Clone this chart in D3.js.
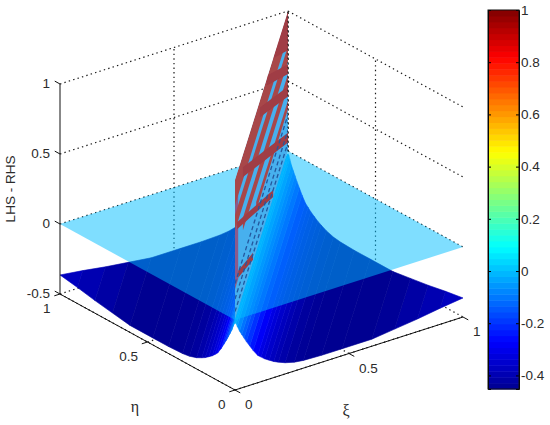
<!DOCTYPE html>
<html>
<head>
<meta charset="utf-8">
<script src="https://cdn.jsdelivr.net/npm/d3@7"></script>
<style>
body { margin: 0; background: #fff; }
text { font-family: "Liberation Sans", sans-serif; font-size: 13.5px; fill: #2b2b2b; }
.greek { font-family: "Liberation Serif", serif; font-size: 16px; }
</style>
</head>
<body>
<script>
//tick values and labels
var zTicks = [1, 0.5, 0, -0.5];
var zTickLabels = ["1", "0.5", "0", "-0.5"];
var xiTicks = [0, 0.5, 1];
var xiTickLabels = ["0", "0.5", "1"];
var etaTicks = [0, 0.5, 1];
var etaTickLabels = ["0", "0.5", "1"];
var colorbarTicks = [1, 0.8, 0.6, 0.4, 0.2, 0, -0.2, -0.4];
var colorbarLabels = ["1", "0.8", "0.6", "0.4", "0.2", "0", "-0.2", "-0.4"];

//colour range and the jet stops
var colorMin = -0.452, colorMax = 1, colorLevels = 64;
var jetStops = [0, 0.125, 0.375, 0.625, 0.875, 1];
var jetColors = ["#000090", "#0000ff", "#00ffff", "#ffff00", "#ff0000", "#800000"];

//surface height against distance from the diagonal
var ridgeOffset = [0, 0.005, 0.01, 0.02, 0.03, 0.04, 0.05, 0.065, 0.08, 0.1, 0.115, 0.13, 0.15, 0.17, 0.19, 0.22, 0.26, 0.3, 0.38, 0.47, 0.6, 0.7, 0.8, 0.9, 1];
var ridgeValue = [-0.02, -0.03, -0.05, -0.09, -0.12, -0.15, -0.18, -0.22, -0.26, -0.305, -0.325, -0.345, -0.365, -0.385, -0.4, -0.42, -0.437, -0.445, -0.45, -0.45, -0.45, -0.43, -0.41, -0.385, -0.364];

//flat plane at zero
var planeLevel = 0;

//red sheet on the diagonal: strips at a fixed drop below the top edge
var stripeTop = [0, 0.25, 0.45, 0.64];
var stripeBottom = [0.18, 0.36, 0.54, 0.7];
var stripeStart = [0, 0, 0.15, 0.4];
//crossing bands on the sheet
var bandStartU = [0.04, 0.06, 0.15, 0.47, 0.6, 0.8];
var bandStartZ = [0.6, 0.23, 0.84, 0.88, 0.95, 0.95];
var bandEndU = [0.72, 0.34, 1, 1, 1, 1];
var bandEndZ = [0.01, 0.02, 0.06, 0.39, 0.55, 0.72];
var bandThick = [0.05, 0.05, 0.07, 0.07, 0.07, 0.07];
//solid red tip of the sheet
var tipU = 0.72, tipZ = 0.72;
//reddish column down the near end of the sheet
var columnEndU = 0.06, columnBottomZ = 0.22;
//thin dark dashes low on the sheet
var dashTop = [0.74, 0.85, 0.94];

var width = 550, height = 425;

var svg = d3.select("body").append("svg")
    .attr("width", width)
    .attr("height", height);

var defs = svg.append("defs");
defs.append("filter")
    .attr("id", "soft")
    .append("feGaussianBlur")
    .attr("stdDeviation", 0.5);

//oblique view of the box, one scale per screen direction
var xiX = d3.scaleLinear().domain([0, 1]).range([0, 228]),
    etaX = d3.scaleLinear().domain([0, 1]).range([235, 60]),
    xiY = d3.scaleLinear().domain([0, 1]).range([0, -73]),
    etaY = d3.scaleLinear().domain([0, 1]).range([0, -96]),
    zY = d3.scaleLinear().domain([-0.5, 1]).range([390, 180]);

function project(xi, eta, z){
    return [xiX(xi) + etaX(eta), zY(z) + xiY(xi) + etaY(eta)];
};

var line = d3.line();

function polygon(points){
    return line(points.map(function(p){
        return project(p[0], p[1], p[2]);
    })) + "Z";
};

var toUnit = d3.scaleLinear().domain([colorMin, colorMax]).range([0, 1]).clamp(true);
var jet = d3.scaleLinear().domain(jetStops).range(jetColors);

//keep the sheet pieces inside the sheet outline
defs.append("clipPath")
    .attr("id", "sheetClip")
    .append("path")
    .attr("d", polygon([[0, 0, 0], [1, 1, 0], [1, 1, 1], [0, 0, 1]]));

//dotted lines on the back walls and the floor
var grid = svg.append("g").attr("class", "grid");

function dotted(target, a, b){
    var p = project(a[0], a[1], a[2]), q = project(b[0], b[1], b[2]);
    target.append("line")
        .attr("x1", p[0]).attr("y1", p[1])
        .attr("x2", q[0]).attr("y2", q[1])
        .attr("stroke", "#1a1a1a")
        .attr("stroke-width", 1.2)
        .attr("stroke-dasharray", "1.4,3.2");
};

zTicks.forEach(function(z){
    dotted(grid, [0, 1, z], [1, 1, z]);
    dotted(grid, [1, 1, z], [1, 0, z]);
});
xiTicks.forEach(function(v){
    if (v > 0){ dotted(grid, [v, 1, -0.5], [v, 1, 1]); }
    if (v < 1){ dotted(grid, [v, 0, -0.5], [v, 1, -0.5]); }
});
etaTicks.forEach(function(v){
    if (v > 0){ dotted(grid, [1, v, -0.5], [1, v, 1]); }
    if (v < 1){ dotted(grid, [0, v, -0.5], [1, v, -0.5]); }
});

//surface bands on each side of the diagonal, far ones first
var surface = svg.append("g").attr("class", "surface");

function addSide(side){
    for (var i = ridgeOffset.length - 2; i >= 0; i--){
        var d0 = ridgeOffset[i], d1 = ridgeOffset[i + 1],
            z0 = ridgeValue[i], z1 = ridgeValue[i + 1];
        var pts = side == "left" ?
            [[0, d0, z0], [1 - d0, 1, z0], [1 - d1, 1, z1], [0, d1, z1]] :
            [[d0, 0, z0], [1, 1 - d0, z0], [1, 1 - d1, z1], [d1, 0, z1]];
        var fill = jet(toUnit((z0 + z1) / 2));
        surface.append("path")
            .attr("d", polygon(pts))
            .attr("fill", fill)
            .attr("stroke", fill)
            .attr("stroke-width", 0.6);
    };
};
addSide("left");
addSide("right");

//translucent plane
svg.append("path")
    .attr("class", "plane")
    .attr("d", polygon([[0, 0, planeLevel], [1, 0, planeLevel], [1, 1, planeLevel], [0, 1, planeLevel]]))
    .attr("fill", jet(toUnit(planeLevel)))
    .attr("fill-opacity", 0.5);

//the sheet on the diagonal, from the plane up to one
var sheetClip = svg.append("g").attr("clip-path", "url(#sheetClip)");
var sheet = sheetClip.append("g").attr("class", "sheet").attr("filter", "url(#soft)");

sheet.append("path")
    .attr("d", polygon([[0, 0, 0], [1, 1, 0], [1, 1, 1], [0, 0, 1]]))
    .attr("fill", "#46b0ee");

sheet.append("path")
    .attr("d", polygon([[0, 0, columnBottomZ], [columnEndU, columnEndU, columnBottomZ], [columnEndU, columnEndU, 1], [0, 0, 1]]))
    .attr("fill", "#8a5a8c");

stripeTop.forEach(function(v, i){
    var u0 = stripeStart[i];
    sheet.append("path")
        .attr("d", polygon([[u0, u0, 1 - v], [1, 1, 1 - v], [1, 1, 1 - stripeBottom[i]], [u0, u0, 1 - stripeBottom[i]]]))
        .attr("fill", "#a8464a");
});

bandStartU.forEach(function(u0, i){
    var u1 = bandEndU[i], z0 = bandStartZ[i], z1 = bandEndZ[i];
    sheet.append("path")
        .attr("d", polygon([[u0, u0, z0], [u1, u1, z1], [u1, u1, z1 + bandThick[i]], [u0, u0, z0 + bandThick[i]]]))
        .attr("fill", "#a03c44");
});

sheet.append("path")
    .attr("d", polygon([[tipU, tipU, 1], [1, 1, 1], [1, 1, tipZ]]))
    .attr("fill", "#a03c44");

dashTop.forEach(function(v){
    sheet.append("path")
        .attr("d", polygon([[0, 0, 1 - v], [1, 1, 1 - v]]))
        .attr("fill", "none")
        .attr("stroke", "#24589f")
        .attr("stroke-width", 1.3)
        .attr("stroke-dasharray", "4,3");
});

//back corner shows through the sheet
dotted(svg, [1, 1, 0], [1, 1, 1]);

//solid axis lines
var axes = svg.append("g").attr("class", "axes");

function solid(a, b){
    var p = project(a[0], a[1], a[2]), q = project(b[0], b[1], b[2]);
    axes.append("line")
        .attr("x1", p[0]).attr("y1", p[1])
        .attr("x2", q[0]).attr("y2", q[1])
        .attr("stroke", "#111")
        .attr("stroke-width", 1);
};

solid([0, 1, -0.5], [0, 1, 1]);
solid([0, 1, -0.5], [0, 0, -0.5]);
solid([0, 0, -0.5], [1, 0, -0.5]);

//ticks and tick labels
function label(target, pos, dx, dy, anchor, txt){
    target.append("text")
        .attr("x", pos[0] + dx)
        .attr("y", pos[1] + dy)
        .attr("text-anchor", anchor)
        .text(txt);
};

zTicks.forEach(function(z, i){
    solid([0, 1, z], [0, 1.03, z]);
    label(axes, project(0, 1, z), -10, 3.5, "end", zTickLabels[i]);
});
etaTicks.forEach(function(v, i){
    solid([0, v, -0.5], [-0.025, v, -0.5]);
    label(axes, project(0, v, -0.5), -9.5, 19, "end", etaTickLabels[i]);
});
xiTicks.forEach(function(v, i){
    solid([v, 0, -0.5], [v, -0.03, -0.5]);
    label(axes, project(v, 0, -0.5), 10, 19, "start", xiTickLabels[i]);
});

//axis titles
svg.append("text")
    .attr("transform", "translate(15,189) rotate(-90)")
    .attr("text-anchor", "middle")
    .text("LHS - RHS");
svg.append("text")
    .attr("class", "greek")
    .attr("x", 135).attr("y", 412)
    .attr("text-anchor", "middle")
    .text("η");
svg.append("text")
    .attr("class", "greek")
    .attr("x", 346).attr("y", 416)
    .attr("text-anchor", "middle")
    .text("ξ");

//colorbar
var barLeft = 488, barRight = 519, barTop = 10, barBottom = 389;
var barY = d3.scaleLinear().domain([colorMin, colorMax]).range([barBottom, barTop]);
var bar = svg.append("g").attr("class", "colorbar");

bar.selectAll("rect")
    .data(d3.range(colorLevels))
    .enter()
    .append("rect")
    .attr("x", barLeft)
    .attr("width", barRight - barLeft)
    .attr("y", function(d){
        return barY(colorMin + (d + 1) / colorLevels * (colorMax - colorMin));
    })
    .attr("height", (barBottom - barTop) / colorLevels + 0.5)
    .style("fill", function(d){
        return jet((d + 0.5) / colorLevels);
    });

var barAxisRight = d3.axisRight(barY)
    .tickValues(colorbarTicks)
    .tickSize(-3)
    .tickPadding(2)
    .tickFormat(function(d, i){ return colorbarLabels[i]; });
var barAxisLeft = d3.axisLeft(barY)
    .tickValues(colorbarTicks)
    .tickSize(-3)
    .tickFormat("");

bar.append("g").attr("transform", "translate(" + barRight + ",0)").call(barAxisRight);
bar.append("g").attr("transform", "translate(" + barLeft + ",0)").call(barAxisLeft);
bar.selectAll("text").style("font-size", "13.5px").style("font-family", "Liberation Sans");
bar.append("rect")
    .attr("x", barLeft)
    .attr("y", barTop)
    .attr("width", barRight - barLeft)
    .attr("height", barBottom - barTop)
    .attr("fill", "none")
    .attr("stroke", "#111");
</script>
</body>
</html>
